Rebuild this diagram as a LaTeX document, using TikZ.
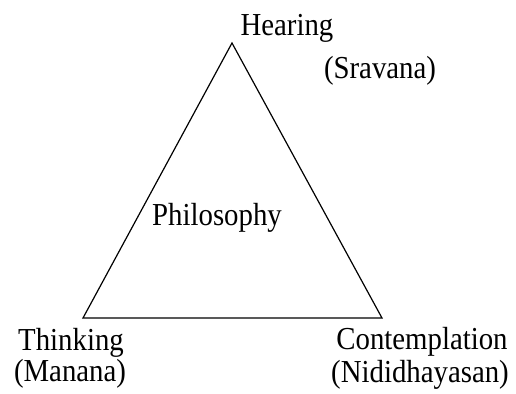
\documentclass[tikz,border=0pt]{standalone}
\usepackage{fontspec}
\setmainfont{Liberation Serif}
\usetikzlibrary{positioning}
\newcommand{\narrow}[1]{\scalebox{0.9}[1]{#1}}
\tikzset{
  every picture/.style={line width=0.6pt},
  lbl/.style={font=\fontsize{16}{19}\selectfont, anchor=base, inner sep=0pt},
  side/.style={draw=black, line join=miter},
}

\begin{document}
\begin{tikzpicture}[x=0.5pt, y=-0.5pt]
  \useasboundingbox (0,0) rectangle (516,393);
  \coordinate (top) at (232,43);
  \coordinate (bl) at (83,318);
  \coordinate (br) at (382,318);
  \draw[side] (top) -- (bl) -- (br) -- cycle;
  \node[lbl] (hear) at (287,35) {\narrow{Hearing}};
  \node[lbl] (srav) at (380,78) {\narrow{(Sravana)}};
  \node[lbl] (phil) at (217,225) {\narrow{Philosophy}};
  \node[lbl] (think) at (71,350) {\narrow{Thinking}};
  \node[lbl] (man) at (70,381) {\narrow{(Manana)}};
  \node[lbl] (cont) at (422,349) {\narrow{Contemplation}};
  \node[lbl] (nidi) at (420,382) {\narrow{(Nididhayasan)}};
\end{tikzpicture}
\end{document}
